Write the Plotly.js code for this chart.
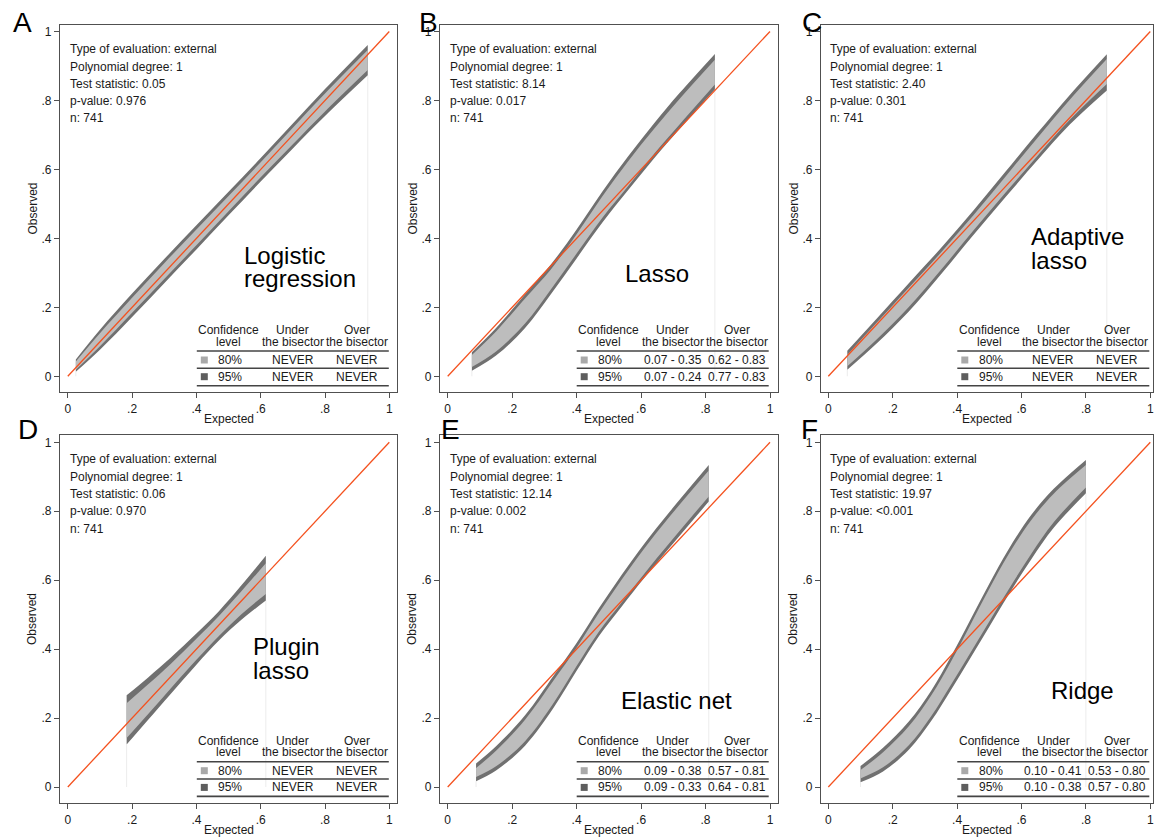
<!DOCTYPE html>
<html>
<head>
<meta charset="utf-8">
<script src="https://cdn.plot.ly/plotly-3.0.1.min.js"></script>
<style>html,body{margin:0;padding:0;background:#fff;}#chart{width:1157px;height:840px;}</style>
</head>
<body>
<div id="chart"></div>
<script>
// ---------------- data ----------------
const panelLetters = ['A', 'B', 'C', 'D', 'E', 'F'];
const modelNames = [['Logistic', 'regression'], ['Lasso'], ['Adaptive', 'lasso'], ['Plugin', 'lasso'], ['Elastic net'], ['Ridge']];
const evalType = ['external', 'external', 'external', 'external', 'external', 'external'];
const polyDegree = [1, 1, 1, 1, 1, 1];
const testStats = ['0.05', '8.14', '2.40', '0.06', '12.14', '19.97'];
const pValues = ['0.976', '0.017', '0.301', '0.970', '0.002', '<0.001'];
const nObs = [741, 741, 741, 741, 741, 741];
const under80 = ['NEVER', '0.07 - 0.35', 'NEVER', 'NEVER', '0.09 - 0.38', '0.10 - 0.41'];
const over80 = ['NEVER', '0.62 - 0.83', 'NEVER', 'NEVER', '0.57 - 0.81', '0.53 - 0.80'];
const under95 = ['NEVER', '0.07 - 0.24', 'NEVER', 'NEVER', '0.09 - 0.33', '0.10 - 0.38'];
const over95 = ['NEVER', '0.77 - 0.83', 'NEVER', 'NEVER', '0.64 - 0.81', '0.57 - 0.80'];
const confLevels = ['80%', '95%'];
const tickVals = [0, 0.2, 0.4, 0.6, 0.8, 1];
const tickText = ['0', '.2', '.4', '.6', '.8', '1'];
const bisectorX = [0, 1];
const bisectorY = [0, 1];

// A: Logistic regression
const xA    = [0.025, 0.1, 0.2, 0.3, 0.4, 0.5, 0.6, 0.7, 0.8, 0.933];
const hi95A = [0.049, 0.135, 0.240, 0.340, 0.438, 0.535, 0.633, 0.733, 0.833, 0.961];
const hi80A = [0.043, 0.125, 0.228, 0.328, 0.426, 0.523, 0.621, 0.721, 0.820, 0.946];
const lo80A = [0.019, 0.087, 0.184, 0.282, 0.380, 0.479, 0.577, 0.673, 0.768, 0.888];
const lo95A = [0.013, 0.077, 0.172, 0.270, 0.368, 0.467, 0.565, 0.661, 0.755, 0.873];
// B: Lasso
const xB    = [0.075, 0.15, 0.24, 0.32, 0.40, 0.48, 0.56, 0.64, 0.72, 0.829];
const hi95B = [0.070, 0.140, 0.238, 0.324, 0.426, 0.536, 0.638, 0.733, 0.822, 0.935];
const hi80B = [0.062, 0.130, 0.226, 0.310, 0.412, 0.522, 0.624, 0.717, 0.805, 0.918];
const lo80B = [0.027, 0.072, 0.153, 0.252, 0.356, 0.460, 0.552, 0.645, 0.731, 0.846];
const lo95B = [0.016, 0.060, 0.140, 0.238, 0.342, 0.446, 0.540, 0.632, 0.718, 0.832];
// C: Adaptive lasso
const xC    = [0.059, 0.15, 0.25, 0.35, 0.45, 0.55, 0.65, 0.75, 0.865];
const hi95C = [0.074, 0.167, 0.270, 0.372, 0.480, 0.593, 0.706, 0.816, 0.934];
const hi80C = [0.062, 0.155, 0.257, 0.359, 0.466, 0.579, 0.692, 0.802, 0.920];
const lo80C = [0.029, 0.107, 0.201, 0.309, 0.422, 0.532, 0.640, 0.744, 0.848];
const lo95C = [0.019, 0.095, 0.188, 0.296, 0.409, 0.519, 0.627, 0.730, 0.829];
// D: Plugin lasso
const xD    = [0.183, 0.25, 0.32, 0.40, 0.47, 0.54, 0.616];
const hi95D = [0.266, 0.318, 0.375, 0.445, 0.510, 0.585, 0.671];
const hi80D = [0.243, 0.298, 0.357, 0.430, 0.496, 0.568, 0.649];
const lo80D = [0.142, 0.212, 0.286, 0.369, 0.438, 0.501, 0.560];
const lo95D = [0.123, 0.195, 0.270, 0.355, 0.425, 0.485, 0.541];
// E: Elastic net
const xE    = [0.088, 0.15, 0.24, 0.33, 0.40, 0.47, 0.54, 0.61, 0.69, 0.81];
const hi95E = [0.068, 0.118, 0.208, 0.325, 0.418, 0.520, 0.616, 0.706, 0.800, 0.934];
const hi80E = [0.055, 0.105, 0.195, 0.311, 0.404, 0.506, 0.602, 0.692, 0.786, 0.918];
const lo80E = [0.029, 0.060, 0.133, 0.246, 0.351, 0.452, 0.536, 0.619, 0.710, 0.843];
const lo95E = [0.017, 0.048, 0.120, 0.232, 0.337, 0.439, 0.524, 0.606, 0.696, 0.828];
// F: Ridge
const xF    = [0.10, 0.17, 0.25, 0.32, 0.38, 0.44, 0.50, 0.56, 0.63, 0.70, 0.80];
const hi95F = [0.061, 0.114, 0.190, 0.280, 0.377, 0.483, 0.590, 0.690, 0.789, 0.865, 0.949];
const hi80F = [0.049, 0.101, 0.176, 0.266, 0.362, 0.468, 0.575, 0.675, 0.774, 0.851, 0.934];
const lo80F = [0.025, 0.057, 0.121, 0.206, 0.295, 0.387, 0.480, 0.573, 0.676, 0.768, 0.869];
const lo95F = [0.0135, 0.045, 0.108, 0.192, 0.280, 0.372, 0.465, 0.558, 0.660, 0.752, 0.852];

const bands = [
  {x: xA, lo95: lo95A, lo80: lo80A, hi80: hi80A, hi95: hi95A},
  {x: xB, lo95: lo95B, lo80: lo80B, hi80: hi80B, hi95: hi95B},
  {x: xC, lo95: lo95C, lo80: lo80C, hi80: hi80C, hi95: hi95C},
  {x: xD, lo95: lo95D, lo80: lo80D, hi80: hi80D, hi95: hi95D},
  {x: xE, lo95: lo95E, lo80: lo80E, hi80: hi80E, hi95: hi95E},
  {x: xF, lo95: lo95F, lo80: lo80F, hi80: hi80F, hi95: hi95F}
];

// ---------------- layout geometry (pixels) ----------------
const W = 1157, H = 840;
const FONT = 'Liberation Sans, Arial, Helvetica, sans-serif';
const TXT = '#1a1a1a';
const FRAME = '#505050';
const C95 = '#707070', C80 = '#bdbdbd';
const RED = '#f4511e';
const cols = [
  {l: 60, r: 397, x0: 67.8, x1: 389.3},
  {l: 440, r: 778, x0: 447.7, x1: 770.0},
  {l: 821, r: 1153, x0: 828.3, x1: 1150.3}
];
const rows = [
  {t: 25, b: 392, y1: 31.5, y0: 376.3},
  {t: 435, b: 803, y1: 442.3, y0: 787.0}
];
const letterPos = [[11, 22], [417, 22], [800, 22], [16, 430], [439, 430], [799, 430]];
const namePos = [[243, 255], [624, 274], [1030, 236], [252, 646], [620, 700], [1050, 690]];

const px = v => v / W;
const py = v => 1 - v / H;

const traces = [];
const layout = {
  width: W, height: H,
  margin: {l: 0, r: 0, t: 0, b: 0},
  paper_bgcolor: '#ffffff', plot_bgcolor: '#ffffff',
  showlegend: false,
  font: {family: FONT, size: 12, color: TXT},
  annotations: [], shapes: []
};

function ann(x, y, text, opts) {
  layout.annotations.push(Object.assign({
    xref: 'paper', yref: 'paper', x: px(x), y: py(y), text: text,
    showarrow: false, xanchor: 'left', yanchor: 'middle',
    font: {family: FONT, size: 12, color: TXT}
  }, opts || {}));
}

for (let i = 0; i < 6; i++) {
  const c = cols[i % 3], r = rows[Math.floor(i / 3)];
  const sfx = i === 0 ? '' : String(i + 1);
  const xa = 'x' + sfx, ya = 'y' + sfx;
  const ux = c.x1 - c.x0, uy = r.y0 - r.y1;
  layout['xaxis' + sfx] = {
    domain: [px(c.l), px(c.r)], anchor: ya,
    range: [(c.l - c.x0) / ux, (c.r - c.x0) / ux],
    tickvals: tickVals, ticktext: tickText, ticks: 'outside', ticklen: 5, tickwidth: 1, tickcolor: FRAME,
    showline: true, mirror: true, linecolor: FRAME, linewidth: 1.2,
    showgrid: false, zeroline: false, fixedrange: true,
    tickfont: {family: FONT, size: 12, color: TXT}
  };
  layout['yaxis' + sfx] = {
    domain: [py(r.b), py(r.t)], anchor: xa,
    range: [(r.y0 - r.b) / uy, (r.y0 - r.t) / uy],
    tickvals: tickVals, ticktext: tickText, ticks: 'outside', ticklen: 5, tickwidth: 1, tickcolor: FRAME,
    showline: true, mirror: true, linecolor: FRAME, linewidth: 1.2,
    showgrid: false, zeroline: false, fixedrange: true,
    tickfont: {family: FONT, size: 12, color: TXT}
  };

  const b = bands[i];
  const n = b.x.length;
  const base = {xaxis: xa, yaxis: ya, type: 'scatter', mode: 'lines', hoverinfo: 'skip'};
  const sp = {width: 0, shape: 'spline', smoothing: 1};
  // faint edge artefacts at start/end of band
  traces.push(Object.assign({}, base, {x: [b.x[0], b.x[0]], y: [0, b.lo95[0]], line: {color: '#ececec', width: 1}}));
  traces.push(Object.assign({}, base, {x: [b.x[n - 1], b.x[n - 1]], y: [0, b.lo95[n - 1]], line: {color: '#ececec', width: 1}}));
  traces.push(Object.assign({}, base, {x: b.x, y: b.lo95, line: sp}));
  traces.push(Object.assign({}, base, {x: b.x, y: b.hi95, fill: 'tonexty', fillcolor: C95, line: sp}));
  traces.push(Object.assign({}, base, {x: b.x, y: b.lo80, line: sp}));
  traces.push(Object.assign({}, base, {x: b.x, y: b.hi80, fill: 'tonexty', fillcolor: C80, line: sp}));
  traces.push(Object.assign({}, base, {x: bisectorX, y: bisectorY, line: {color: RED, width: 1.3}}));

  // texts
  const ox = c.x0, oy = r.y0;
  const info = ['Type of evaluation: ' + evalType[i], 'Polynomial degree: ' + polyDegree[i],
    'Test statistic: ' + testStats[i], 'p-value: ' + pValues[i], 'n: ' + nObs[i]];
  info.forEach((t, k) => ann(ox, r.t + 24.3 + k * 17.3, t));
  ann(letterPos[i][0], letterPos[i][1], panelLetters[i], {font: {family: FONT, size: 28, color: '#000'}});
  modelNames[i].forEach((t, k) => ann(namePos[i][0] - 1, namePos[i][1] + k * 24, t, {font: {family: FONT, size: 24, color: '#000'}}));
  ann((c.l + c.r) / 2, r.b + 27, 'Expected', {xanchor: 'center'});
  ann(c.l - 28, (r.t + r.b) / 2, 'Observed', {xanchor: 'center', textangle: -90});

  // table
  ann(ox + 161, oy - 46.3, 'Confidence', {xanchor: 'center'});
  ann(ox + 161, oy - 34.6, 'level', {xanchor: 'center'});
  ann(ox + 225, oy - 46.3, 'Under', {xanchor: 'center'});
  ann(ox + 225, oy - 34.6, 'the bisector', {xanchor: 'center'});
  ann(ox + 289, oy - 46.3, 'Over', {xanchor: 'center'});
  ann(ox + 289, oy - 34.6, 'the bisector', {xanchor: 'center'});
  const rowY = [oy - 16.3, oy + 0.4];
  const rowCol = ['#a9a9a9', '#5e5e5e'];
  const unders = [under80[i], under95[i]], overs = [over80[i], over95[i]];
  for (let k = 0; k < 2; k++) {
    layout.shapes.push({type: 'rect', xref: 'paper', yref: 'paper',
      x0: px(ox + 133), x1: px(ox + 140), y0: py(rowY[k] + 3.5), y1: py(rowY[k] - 3.5),
      fillcolor: rowCol[k], line: {width: 0}});
    ann(ox + 148.5, rowY[k], confLevels[k]);
    ann(ox + 225, rowY[k], unders[k], {xanchor: 'center'});
    ann(ox + 289, rowY[k], overs[k], {xanchor: 'center'});
  }
  [oy - 25.3, oy - 8, oy + 9.4].forEach(yy => {
    layout.shapes.push({type: 'line', xref: 'paper', yref: 'paper',
      x0: px(ox + 129), x1: px(ox + 321), y0: py(yy), y1: py(yy),
      line: {color: '#444', width: 1.6}});
  });
}

Plotly.newPlot('chart', traces, layout, {displayModeBar: false, staticPlot: true});
</script>
</body>
</html>
